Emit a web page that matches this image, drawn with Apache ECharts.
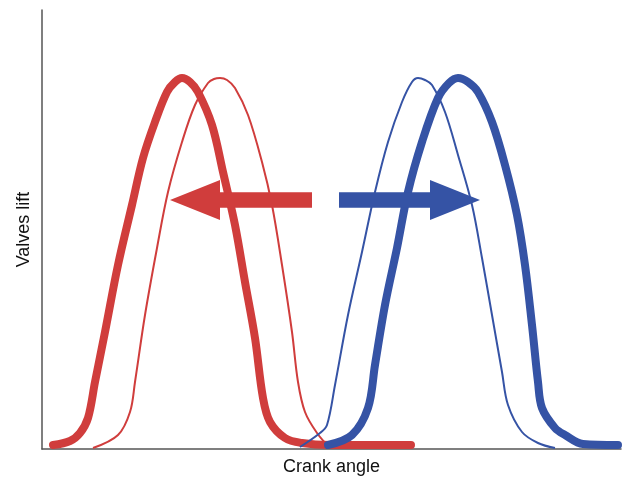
<!DOCTYPE html>
<html>
<head>
<meta charset="utf-8">
<style>html,body{margin:0;padding:0;background:#fff}#c{width:627px;height:479px}</style>
<script src="https://cdn.jsdelivr.net/npm/echarts@6/dist/echarts.min.js"></script>
</head>
<body>
<div id="c"></div>
<script>
// Crank angle (arbitrary units) vs valve lift (arbitrary units)
const exhaustAdvanced = [[11,4],[28,8],[38,16],[46,31],[53,67],[63,117],[76,184],[90,244],[101,291],[113,327],[125,357],[133,367],[140,371],[148,367],[156,357],[170,324],[181,277],[193,224],[203,167],[213,111],[221,51],[228,27],[243,11],[260,6],[288,4],[369,4]];
const exhaustBase = [[51,1],[76,14],[88,37],[93,67],[103,134],[115,201],[126,257],[140,307],[153,344],[166,366],[172,370],[178,371],[185,369],[193,361],[206,334],[220,287],[230,244],[240,184],[250,117],[256,67],[263,37],[275,16],[288,1]];
const intakeBase = [[258,2],[278,16],[285,24],[293,64],[306,134],[320,197],[333,257],[346,307],[360,347],[370,367],[376,371],[383,369],[390,364],[403,337],[416,294],[430,244],[440,191],[450,134],[460,77],[466,44],[480,17],[496,6],[513,1]];
const intakeRetarded = [[286,4],[310,14],[326,41],[333,84],[343,144],[355,201],[366,257],[380,307],[396,351],[407,366],[416,371],[426,367],[436,357],[450,327],[463,284],[475,234],[483,184],[490,124],[496,67],[500,41],[513,21],[523,14],[541,5],[576,4]];
// arrows: [start x, tip x, y]
const arrowLeft = [[270, 128, 249]];
const arrowRight = [[297, 438, 249]];

const RED = '#D03D3C';
const BLUE = '#3553A5';

function arrowRender(params, api) {
  const s = api.coord([api.value(0), api.value(2)]);
  const t = api.coord([api.value(1), api.value(2)]);
  const dir = t[0] > s[0] ? 1 : -1;
  const headLen = 50, headHalf = 20, shaftHalf = 7.8;
  const bx = t[0] - dir * headLen;
  const y = s[1];
  return {
    type: 'polygon',
    shape: { points: [
      [s[0], y - shaftHalf], [bx, y - shaftHalf], [bx, y - headHalf],
      [t[0], y], [bx, y + headHalf], [bx, y + shaftHalf], [s[0], y + shaftHalf]
    ]},
    style: { fill: api.visual('color') }
  };
}

const lineBase = { type: 'line', smooth: 0.35, symbol: 'none' };

const chart = echarts.init(document.getElementById('c'));
chart.setOption({
  animation: false,
  backgroundColor: '#fff',
  grid: { left: 42, right: 6, top: 10, bottom: 30, outerBoundsMode: 'none', containLabel: false },
  xAxis: {
    type: 'value', min: 0, max: 579,
    name: 'Crank angle', nameLocation: 'middle', nameGap: 9,
    nameTextStyle: { fontFamily: 'Liberation Sans', fontSize: 18, color: '#111', verticalAlign: 'top' },
    axisLine: { lineStyle: { color: '#555', width: 1.5 } },
    axisTick: { show: false }, axisLabel: { show: false }, splitLine: { show: false }
  },
  yAxis: {
    type: 'value', min: 0, max: 439,
    name: 'Valves lift', nameLocation: 'middle', nameGap: 9,
    nameTextStyle: { fontFamily: 'Liberation Sans', fontSize: 18, color: '#111', verticalAlign: 'bottom' },
    axisLine: { show: true, lineStyle: { color: '#555', width: 1.5 } },
    axisTick: { show: false }, axisLabel: { show: false }, splitLine: { show: false }
  },
  series: [
    Object.assign({}, lineBase, { data: exhaustBase, z: 2, lineStyle: { color: RED, width: 2 } }),
    Object.assign({}, lineBase, { data: exhaustAdvanced, z: 3, lineStyle: { color: RED, width: 8, cap: 'round', join: 'round' } }),
    Object.assign({}, lineBase, { data: intakeBase, z: 4, lineStyle: { color: BLUE, width: 2 } }),
    Object.assign({}, lineBase, { data: intakeRetarded, z: 5, lineStyle: { color: BLUE, width: 8, cap: 'round', join: 'round' } }),
    { type: 'custom', data: arrowLeft, renderItem: arrowRender, itemStyle: { color: RED }, z: 6,
      encode: { x: [0, 1], y: 2 } },
    { type: 'custom', data: arrowRight, renderItem: arrowRender, itemStyle: { color: BLUE }, z: 6,
      encode: { x: [0, 1], y: 2 } }
  ]
});
</script>
</body>
</html>
